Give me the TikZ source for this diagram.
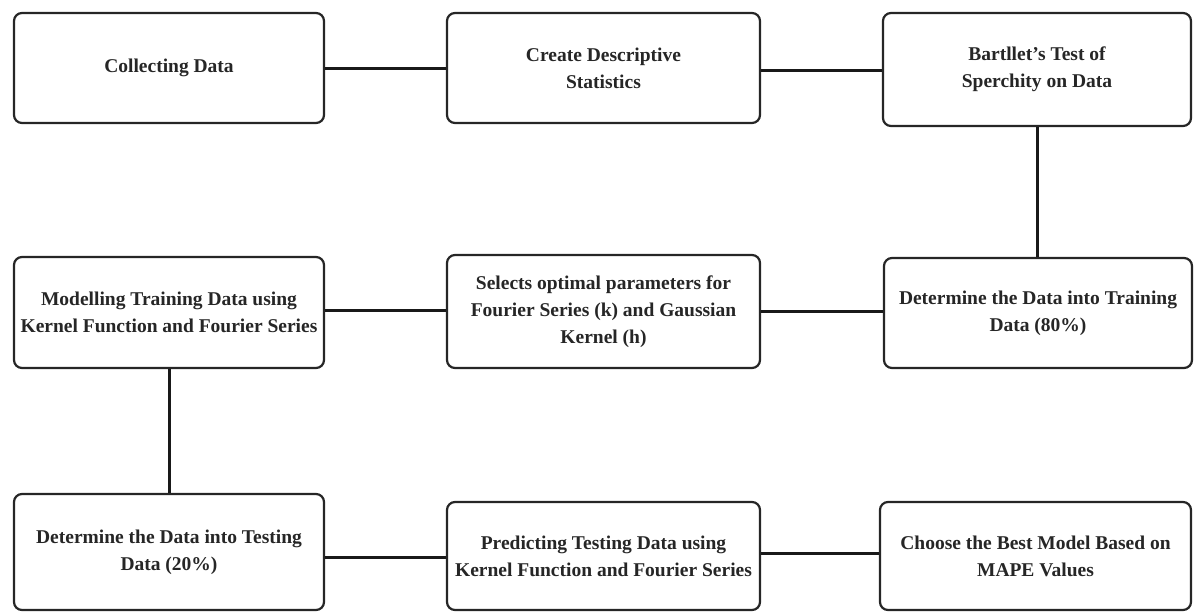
\documentclass[tikz,border=0pt]{standalone}
\usepackage{fontspec}
\setmainfont{Liberation Serif}
\begin{document}
\begin{tikzpicture}[x=1pt,y=-1pt,
  box/.style={draw=black!85, line width=2.2pt, rounded corners=8pt, fill=white,
    align=center, inner sep=2pt, font=\fontsize{19.5}{27}\selectfont\bfseries, text=black!85},
  link/.style={draw=black!90, line width=3pt}]
\useasboundingbox (0,0) rectangle (1194,611);
\node[box, minimum width=310pt, minimum height=110pt] (b1) at (169,68) {Collecting Data};
\node[box, minimum width=313pt, minimum height=110pt] (b2) at (603.5,68) {Create Descriptive\\Statistics};
\node[box, minimum width=308pt, minimum height=113pt] (b3) at (1037,69.5) {Bartllet's Test of\\Sperchity on Data};
\node[box, minimum width=310pt, minimum height=111pt] (b4) at (169,312.5) {Modelling Training Data using\\Kernel Function and Fourier Series};
\node[box, minimum width=313pt, minimum height=113pt] (b5) at (603.5,311.5) {Selects optimal parameters for\\Fourier Series (k) and Gaussian\\Kernel (h)};
\node[box, minimum width=308pt, minimum height=110pt] (b6) at (1038,313) {Determine the Data into Training\\Data (80\%)};
\node[box, minimum width=310pt, minimum height=116pt] (b7) at (169,552) {Determine the Data into Testing\\Data (20\%)};
\node[box, minimum width=313pt, minimum height=108pt] (b8) at (603.5,556) {Predicting Testing Data using\\Kernel Function and Fourier Series};
\node[box, minimum width=311pt, minimum height=108pt] (b9) at (1035.5,556) {Choose the Best Model Based on\\MAPE Values};
\draw[link] (b1.east) -- (b2.west);
\draw[link] (b2.east |- 0,70) -- (b3.west |- 0,70);
\draw[link] (b3.south) -- (b3.south |- b6.north);
\draw[link] (b6.west |- 0,311) -- (b5.east |- 0,311);
\draw[link] (b5.west |- 0,310) -- (b4.east |- 0,310);
\draw[link] (b4.south) -- (b4.south |- b7.north);
\draw[link] (b7.east |- 0,557) -- (b8.west |- 0,557);
\draw[link] (b8.east |- 0,553) -- (b9.west |- 0,553);
\end{tikzpicture}
\end{document}
